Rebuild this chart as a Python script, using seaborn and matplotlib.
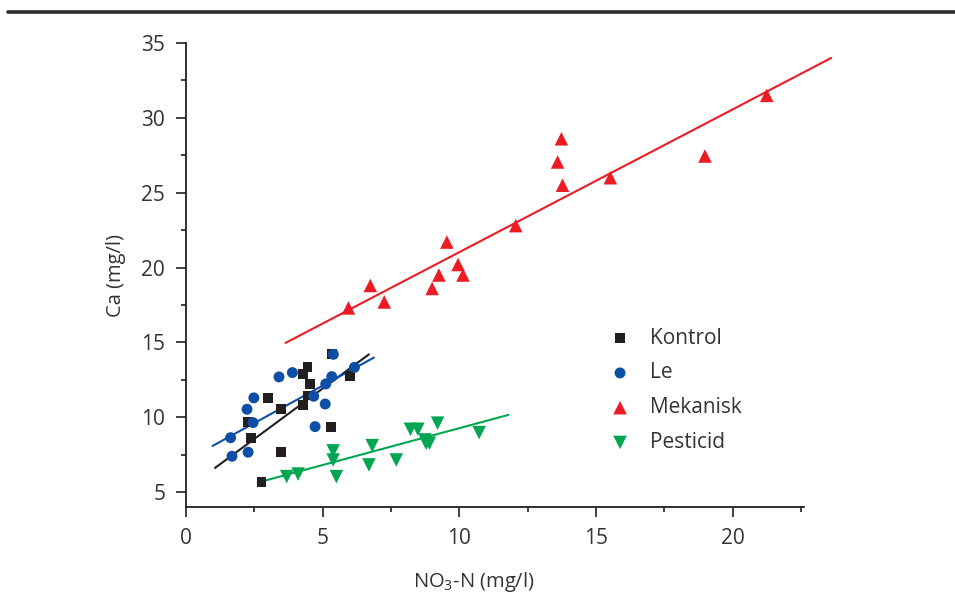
import matplotlib
matplotlib.use("Agg")
import matplotlib.pyplot as plt
from matplotlib.lines import Line2D
from matplotlib.ticker import MultipleLocator
import numpy as np
import pandas as pd
import seaborn as sns

# ---- data ----
kontrol_x = [5.34, 4.44, 4.29, 5.99, 4.53, 3.01, 3.47, 4.29, 4.44, 2.25, 5.29, 2.37, 3.47, 2.76]
kontrol_y = [14.2, 13.33, 12.9, 12.75, 12.2, 11.29, 10.53, 10.84, 11.45, 9.66, 9.37, 8.63, 7.68, 5.65]

le_x = [5.39, 3.40, 3.89, 5.33, 6.16, 5.11, 2.48, 2.23, 4.67, 2.45, 5.09, 4.72, 1.63, 2.27, 1.68]
le_y = [14.2, 12.69, 12.98, 12.71, 13.33, 12.22, 11.29, 10.53, 11.40, 9.64, 10.88, 9.37, 8.63, 7.66, 7.39]

mek_x = [5.94, 6.74, 7.25, 9.00, 9.25, 9.54, 9.95, 10.13, 12.06, 13.59, 13.73, 13.77, 15.52, 18.98, 21.24]
mek_y = [17.3, 18.8, 17.7, 18.6, 19.5, 21.7, 20.2, 19.5, 22.8, 27.05, 28.6, 25.5, 26.0, 27.45, 31.5]

pest_x = [3.68, 4.10, 5.38, 5.38, 5.50, 6.81, 6.69, 7.69, 8.21, 8.48, 8.74, 8.78, 8.90, 9.20, 10.72]
pest_y = [6.03, 6.20, 7.75, 7.14, 6.03, 8.10, 6.81, 7.14, 9.19, 9.19, 8.48, 8.26, 8.26, 9.60, 8.97]

groups = ["Kontrol", "Le", "Mekanisk", "Pesticid"]

# fitted lines as shown in the reference: start x, end x, slope, intercept
fit_x_start = [1.06, 0.97, 3.64, 2.62]
fit_x_end = [6.69, 6.87, 23.6, 11.79]
fit_slope = [1.348, 1.00, 0.954, 0.493]
fit_intercept = [5.18, 7.11, 11.49, 4.34]

x_ticks = [0, 5, 10, 15, 20]
y_ticks = [5, 10, 15, 20, 25, 30, 35]

# ---- styling ----
colors = {"Kontrol": "#231f20", "Le": "#0d4ea6", "Mekanisk": "#ed1c24", "Pesticid": "#00a651"}
markers = {"Kontrol": "s", "Le": "o", "Mekanisk": "^", "Pesticid": "v"}
sizes = {"Kontrol": 50, "Le": 62, "Mekanisk": 95, "Pesticid": 95}

sns.set_theme(style="white")
plt.rcParams["font.family"] = ["Open Sans", "DejaVu Sans"]
plt.rcParams["mathtext.fontset"] = "custom"
plt.rcParams["mathtext.rm"] = "Open Sans"

df = pd.concat([
    pd.DataFrame({"x": kontrol_x, "y": kontrol_y, "g": "Kontrol"}),
    pd.DataFrame({"x": le_x, "y": le_y, "g": "Le"}),
    pd.DataFrame({"x": mek_x, "y": mek_y, "g": "Mekanisk"}),
    pd.DataFrame({"x": pest_x, "y": pest_y, "g": "Pesticid"}),
], ignore_index=True)

fig = plt.figure(figsize=(9.55, 5.99), dpi=100)
ax = fig.add_axes([0.1948, 0.1536, 0.647, 0.7746])

text_color = "#333333"
for i, g in enumerate(groups):
    xs = np.array([fit_x_start[i], fit_x_end[i]])
    ax.plot(xs, fit_slope[i] * xs + fit_intercept[i], color=colors[g], lw=1.5,
            clip_on=False, zorder=2)

for g in groups:
    sub = df[df["g"] == g]
    sns.scatterplot(data=sub, x="x", y="y", ax=ax, color=colors[g], marker=markers[g],
                    s=sizes[g], edgecolor="none", linewidth=0, label=g, zorder=3,
                    clip_on=False)

ax.set_xlim(0, 22.6)
ax.set_ylim(4.0, 35)
ax.set_xticks(x_ticks)
ax.set_yticks(y_ticks)
ax.xaxis.set_minor_locator(MultipleLocator(2.5))
ax.yaxis.set_minor_locator(MultipleLocator(2.5))

for side in ["top", "right"]:
    ax.spines[side].set_visible(False)
for side in ["left", "bottom"]:
    ax.spines[side].set_color("#231f20")
    ax.spines[side].set_linewidth(1.3)

ax.tick_params(axis="both", which="major", direction="out", length=7, width=1.2,
               color="#231f20", labelsize=15, labelcolor=text_color, pad=8,
               left=True, bottom=True)
ax.tick_params(axis="both", which="minor", direction="out", length=3.8, width=1.2,
               color="#231f20", left=True, bottom=True)

ax.set_xlabel("NO$_3$-N (mg/l)", fontsize=14.5, color=text_color, labelpad=16)
ax.xaxis.set_label_coords(0.466, -0.135)
ax.set_ylabel("Ca (mg/l)", fontsize=14.5, color=text_color, labelpad=11)

leg = ax.legend(loc="upper left", bbox_to_anchor=(0.634, 0.453), bbox_transform=fig.transFigure,
                frameon=False, fontsize=15, handlelength=1.4, handletextpad=0.74,
                labelspacing=0.66, markerscale=1.0, borderaxespad=0, borderpad=0)
for t in leg.get_texts():
    t.set_color(text_color)

# top rule across the figure
fig.add_artist(Line2D([0.008, 1.0], [1 - 12 / 599, 1 - 12 / 599], transform=fig.transFigure,
                      color="#2b2b2b", lw=2.6))

fig.savefig("out.png", dpi=100)
